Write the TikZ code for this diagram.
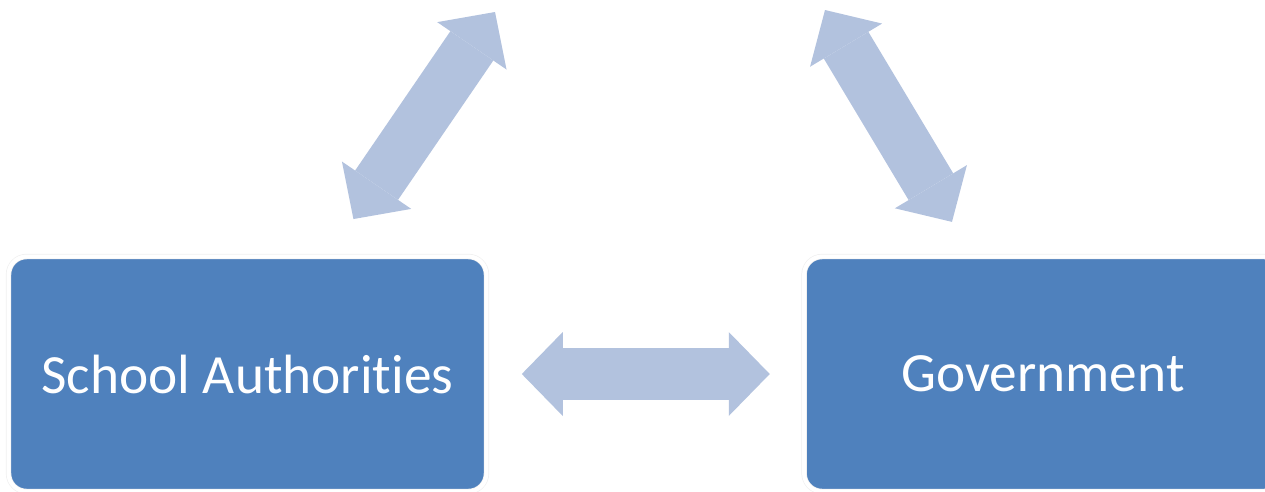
\documentclass[tikz,border=0pt]{standalone}
\usepackage{fontspec}
\setmainfont{Carlito}[Ligatures=NoCommon]
\usepackage{xcolor}
\usepackage{tikz}
\usetikzlibrary{arrows.meta}
\usetikzlibrary{positioning}

\definecolor{boxblue}{RGB}{79,129,189}
\definecolor{arrowblue}{RGB}{178,194,222}

\begin{document}
\begin{tikzpicture}[x=0.02cm, y=-0.02cm, node distance = 6.34cm, % pixel grid, y downwards
			>={Triangle[length=0.82cm, width=1.68cm, line width=0pt]},
			block/.style={
					rectangle,
					draw=black!6,
					double=white,
					double distance=0.08cm,
					line width=0.4pt,
					fill=boxblue,
					text=white,
					minimum width=9.56cm,
					minimum height=4.7cm,
					rounded corners=0.36cm,
					inner sep=0pt,
					font=\fontsize{31.5}{36}\selectfont
				},
			line/.style={draw=arrowblue, line width=1.04cm, <->}
		]
		\useasboundingbox (0,0) rectangle (1265,491);
		% Place nodes
		\node [block] (school) at (247.5,374) {School Authorities};
		\node [block, right=of school] (government) {Government};
		% the shape above is cut off, only the arrow ends are left
		\coordinate (schoolup) at (495,12);
		\coordinate (governmentup) at (825,10);
		% Draw edges
		\path [line, shorten <=0.7cm, shorten >=0.68cm] (school) -- (government);
		\path [line, shorten <=0.9cm] (school) -- (schoolup);
		\path [line, shorten <=0.8cm] (government) -- (governmentup);
	\end{tikzpicture}
\end{document}
